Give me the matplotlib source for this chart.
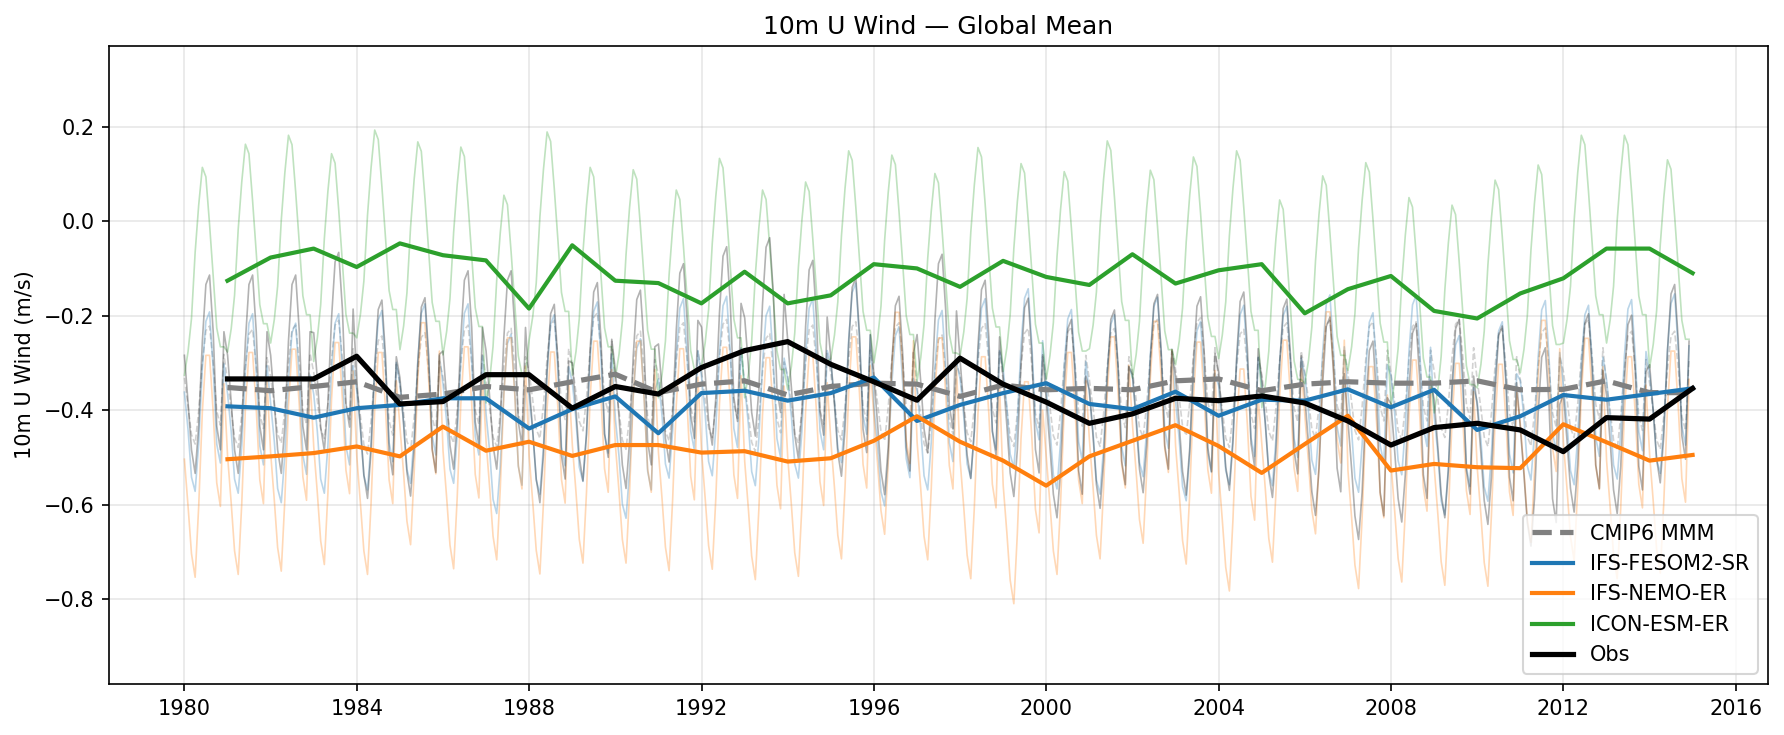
import numpy as np
import pandas as pd
import matplotlib
matplotlib.use("Agg")
import matplotlib.pyplot as plt
import matplotlib.dates as mdates

# annual means 1980..2014 (plotted at year end)
cmip6_annual = [-0.352, -0.359, -0.350, -0.340, -0.373, -0.366, -0.350, -0.357, -0.340, -0.324,
                -0.363, -0.345, -0.338, -0.368, -0.350, -0.343, -0.345, -0.371, -0.347, -0.357,
                -0.354, -0.357, -0.338, -0.334, -0.359, -0.345, -0.340, -0.343, -0.343, -0.338,
                -0.357, -0.356, -0.338, -0.363, -0.363]
fesom_annual = [-0.392, -0.396, -0.416, -0.396, -0.389, -0.375, -0.375, -0.439, -0.398, -0.371,
                -0.449, -0.364, -0.359, -0.380, -0.364, -0.331, -0.423, -0.389, -0.364, -0.343,
                -0.387, -0.398, -0.361, -0.412, -0.378, -0.380, -0.356, -0.394, -0.357, -0.442,
                -0.413, -0.368, -0.378, -0.366, -0.354]
nemo_annual = [-0.504, -0.498, -0.491, -0.477, -0.498, -0.435, -0.486, -0.467, -0.497, -0.474,
               -0.474, -0.490, -0.487, -0.509, -0.502, -0.465, -0.413, -0.467, -0.507, -0.560,
               -0.498, -0.465, -0.432, -0.476, -0.533, -0.472, -0.412, -0.528, -0.514, -0.521,
               -0.523, -0.430, -0.468, -0.507, -0.495]
icon_annual = [-0.126, -0.077, -0.058, -0.097, -0.047, -0.072, -0.083, -0.185, -0.051, -0.126,
               -0.131, -0.174, -0.107, -0.174, -0.157, -0.091, -0.100, -0.139, -0.084, -0.118,
               -0.135, -0.070, -0.132, -0.104, -0.091, -0.195, -0.144, -0.116, -0.190, -0.206,
               -0.153, -0.121, -0.058, -0.058, -0.110]
obs_annual = [-0.334, -0.334, -0.334, -0.286, -0.387, -0.382, -0.325, -0.325, -0.396, -0.350,
              -0.366, -0.310, -0.274, -0.255, -0.303, -0.340, -0.379, -0.290, -0.345, -0.383,
              -0.428, -0.408, -0.375, -0.380, -0.370, -0.385, -0.423, -0.474, -0.437, -0.428,
              -0.442, -0.488, -0.416, -0.419, -0.354]

# typical monthly departure from the annual mean (Jan..Dec)
cmip6_season = [0.02, -0.04, -0.10, -0.12, -0.05, 0.05, 0.12, 0.13, 0.05, -0.05, -0.08, 0.07]
fesom_season = [0.03, -0.05, -0.15, -0.18, -0.08, 0.08, 0.18, 0.20, 0.08, -0.08, -0.12, 0.09]
nemo_season = [0.00, -0.10, -0.20, -0.25, -0.10, 0.10, 0.22, 0.22, 0.10, -0.05, -0.10, 0.16]
icon_season = [-0.20, -0.15, -0.08, 0.06, 0.16, 0.24, 0.22, 0.12, 0.01, -0.10, -0.14, -0.14]
obs_season = [0.05, -0.05, -0.15, -0.20, -0.10, 0.08, 0.20, 0.22, 0.10, -0.10, -0.15, 0.10]

months = pd.date_range("1980-01-01", "2014-12-01", freq="MS")
years_end = pd.date_range("1980-12-31", "2014-12-31", freq="YE")


def monthly(annual, season):
    return (np.array(annual)[:, None] + np.array(season)[None, :]).ravel()


fig = plt.figure(figsize=(1784 / 150, 735 / 150), dpi=150)
ax = fig.add_axes([109 / 1784, 1 - 684 / 735, (1768 - 109) / 1784, (684 - 46) / 735])

# thin monthly lines
ax.plot(months, monthly(cmip6_annual, cmip6_season), color="gray", ls="--", lw=0.8, alpha=0.35)
ax.plot(months, monthly(fesom_annual, fesom_season), color="#1f77b4", lw=0.8, alpha=0.3)
ax.plot(months, monthly(nemo_annual, nemo_season), color="#ff7f0e", lw=0.8, alpha=0.3)
ax.plot(months, monthly(icon_annual, icon_season), color="#2ca02c", lw=0.8, alpha=0.3)
ax.plot(months, monthly(obs_annual, obs_season), color="black", lw=0.8, alpha=0.3)

# annual means
ax.plot(years_end, cmip6_annual, color="gray", ls="--", lw=2.5, label="CMIP6 MMM")
ax.plot(years_end, fesom_annual, color="#1f77b4", lw=2, label="IFS-FESOM2-SR")
ax.plot(years_end, nemo_annual, color="#ff7f0e", lw=2, label="IFS-NEMO-ER")
ax.plot(years_end, icon_annual, color="#2ca02c", lw=2, label="ICON-ESM-ER")
ax.plot(years_end, obs_annual, color="black", lw=2.5, label="Obs")

ax.set_ylim(-0.98, 0.371)
ax.set_yticks([-0.8, -0.6, -0.4, -0.2, 0.0, 0.2])
ax.xaxis.set_major_locator(mdates.YearLocator(4))
ax.xaxis.set_major_formatter(mdates.DateFormatter("%Y"))
ax.grid(True, alpha=0.3)
ax.set_ylabel("10m U Wind (m/s)")
ax.set_title("10m U Wind — Global Mean")
ax.legend(loc="lower right")

fig.savefig("out.png", dpi=150)
